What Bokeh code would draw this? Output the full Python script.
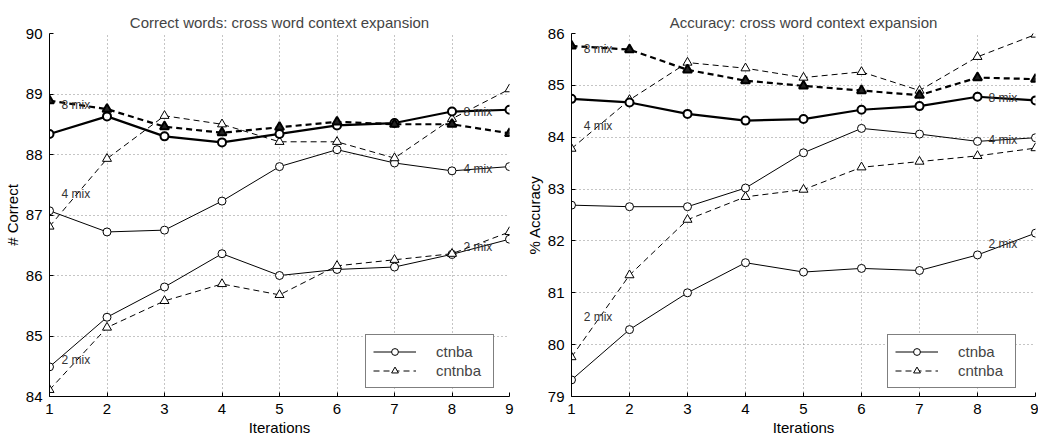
from bokeh.plotting import figure
from bokeh.layouts import row
from bokeh.models import Range1d, SingleIntervalTicker, Legend, LegendItem
from bokeh.core.properties import value
from bokeh.embed import file_html
from bokeh.resources import INLINE

FONT = "Liberation Sans"

iterations = [1, 2, 3, 4, 5, 6, 7, 8, 9]

# Correct words (%), per number of mixtures
correct_ctnba_2 = [84.49, 85.31, 85.81, 86.36, 86.00, 86.10, 86.14, 86.35, 86.60]
correct_cntnba_2 = [84.11, 85.14, 85.58, 85.86, 85.68, 86.16, 86.26, 86.36, 86.72]
correct_ctnba_4 = [87.07, 86.72, 86.75, 87.23, 87.80, 88.08, 87.86, 87.73, 87.80]
correct_cntnba_4 = [86.81, 87.93, 88.64, 88.50, 88.21, 88.21, 87.94, 88.59, 89.08]
correct_ctnba_8 = [88.34, 88.63, 88.30, 88.20, 88.34, 88.48, 88.52, 88.71, 88.74]
correct_cntnba_8 = [88.89, 88.75, 88.46, 88.36, 88.45, 88.54, 88.50, 88.50, 88.35]

# Accuracy (%), per number of mixtures
acc_ctnba_2 = [79.32, 80.29, 81.00, 81.58, 81.40, 81.47, 81.43, 81.73, 82.15]
acc_cntnba_2 = [79.76, 81.34, 82.41, 82.85, 82.99, 83.42, 83.53, 83.64, 83.79]
acc_ctnba_4 = [82.69, 82.66, 82.66, 83.02, 83.70, 84.17, 84.06, 83.92, 83.99]
acc_cntnba_4 = [83.78, 84.72, 85.44, 85.33, 85.15, 85.26, 84.90, 85.55, 85.98]
acc_ctnba_8 = [84.74, 84.67, 84.45, 84.32, 84.35, 84.53, 84.60, 84.78, 84.71]
acc_cntnba_8 = [85.76, 85.69, 85.30, 85.09, 84.99, 84.90, 84.81, 85.15, 85.12]

mix_labels = ["8 mix", "4 mix", "2 mix", "8 mix", "4 mix", "2 mix"]
correct_label_x = [1.21, 1.21, 1.21, 8.2, 8.2, 8.2]
correct_label_y = [88.81, 87.34, 84.60, 88.71, 87.76, 86.47]
acc_label_x = [1.21, 1.21, 1.21, 8.19, 8.19, 8.19]
acc_label_y = [85.71, 84.21, 80.53, 84.75, 83.94, 81.94]


def make_panel(title, ylabel, y_lo, y_hi, series, lx, ly, width, border_left, border_right):
    p = figure(width=width, height=438, output_backend="svg", toolbar_location=None,
               x_range=Range1d(1, 9), y_range=Range1d(y_lo, y_hi),
               min_border_left=border_left, min_border_right=border_right,
               min_border_top=33, min_border_bottom=41,
               title=title)
    p.outline_line_color = None
    p.background_fill_color = "white"
    p.border_fill_color = "white"

    p.title.text_font = FONT
    p.title.text_font_size = "15px"
    p.title.text_font_style = "normal"
    p.title.align = "center"
    p.title.standoff = 6

    for ax in (p.xaxis[0], p.yaxis[0]):
        ax.ticker = SingleIntervalTicker(interval=1)
        ax.minor_tick_line_color = None
        ax.major_tick_in = 4
        ax.major_tick_out = 0
        ax.axis_line_color = "black"
        ax.major_tick_line_color = "black"
        ax.major_label_text_font = FONT
        ax.major_label_text_font_size = "15px"
        ax.major_label_text_color = "black"
        ax.axis_label_text_font = FONT
        ax.axis_label_text_font_size = "15px"
        ax.axis_label_text_font_style = "normal"
        ax.axis_label_text_color = "black"
        ax.major_label_standoff = 3
        ax.axis_label_standoff = 2
    p.xaxis.axis_label = "Iterations"
    p.yaxis.axis_label = ylabel

    for g in (p.xgrid[0], p.ygrid[0]):
        g.ticker = SingleIntervalTicker(interval=1)
        g.grid_line_color = "#8a8a8a"
        g.grid_line_dash = "1 3"
        g.grid_line_width = 1

    (c2, n2, c4, n4, c8, n8) = series

    # thin series: 2 and 4 mixtures
    leg_c = leg_n = None
    for c_vals, n_vals in ((c2, n2), (c4, n4)):
        lc = p.line(iterations, c_vals, line_color="black", line_width=1)
        sc = p.scatter(iterations, c_vals, marker="circle", size=8,
                       line_color="black", fill_color="white", line_width=1)
        ln = p.line(iterations, n_vals, line_color="black", line_width=1, line_dash="6 4")
        sn = p.scatter(iterations, n_vals, marker="triangle", size=9,
                       line_color="black", fill_color="white", line_width=1)
        if leg_c is None:
            leg_c = [lc, sc]
            leg_n = [ln, sn]

    # thick series: 8 mixtures
    p.line(iterations, c8, line_color="black", line_width=2.2)
    p.scatter(iterations, c8, marker="circle", size=8,
              line_color="black", fill_color="white", line_width=2)
    p.line(iterations, n8, line_color="black", line_width=2.2, line_dash="6 4")
    p.scatter(iterations, n8, marker="triangle", size=9,
              line_color="black", fill_color="#222222", line_width=2)

    p.text(x=lx, y=ly, text=mix_labels, text_font=value(FONT), text_font_size="12px",
           text_color="#333333", text_align="left", text_baseline="middle")

    legend = Legend(items=[LegendItem(label="ctnba", renderers=leg_c),
                           LegendItem(label="cntnba", renderers=leg_n)],
                    location=(316, 8), orientation="vertical")
    legend.border_line_color = "black"
    legend.border_line_width = 1
    legend.background_fill_color = "white"
    legend.background_fill_alpha = 1
    legend.label_text_font = FONT
    legend.label_text_font_size = "15px"
    legend.glyph_width = 43
    legend.glyph_height = 17
    legend.label_standoff = 20
    legend.label_width = 50
    legend.label_height = 19
    legend.padding = 7
    legend.spacing = 0
    legend.margin = 0
    p.add_layout(legend)
    return p


p1 = make_panel("Correct words: cross word context expansion", "# Correct", 84, 90,
                (correct_ctnba_2, correct_cntnba_2, correct_ctnba_4,
                 correct_cntnba_4, correct_ctnba_8, correct_cntnba_8),
                correct_label_x, correct_label_y, 518, 46, 9)
p2 = make_panel("Accuracy: cross word context expansion", "% Accuracy", 79, 86,
                (acc_ctnba_2, acc_cntnba_2, acc_ctnba_4,
                 acc_cntnba_4, acc_ctnba_8, acc_cntnba_8),
                acc_label_x, acc_label_y, 520, 53, 3)

layout = row(p1, p2, spacing=0)
open("out.html", "w").write(file_html(layout, INLINE))
